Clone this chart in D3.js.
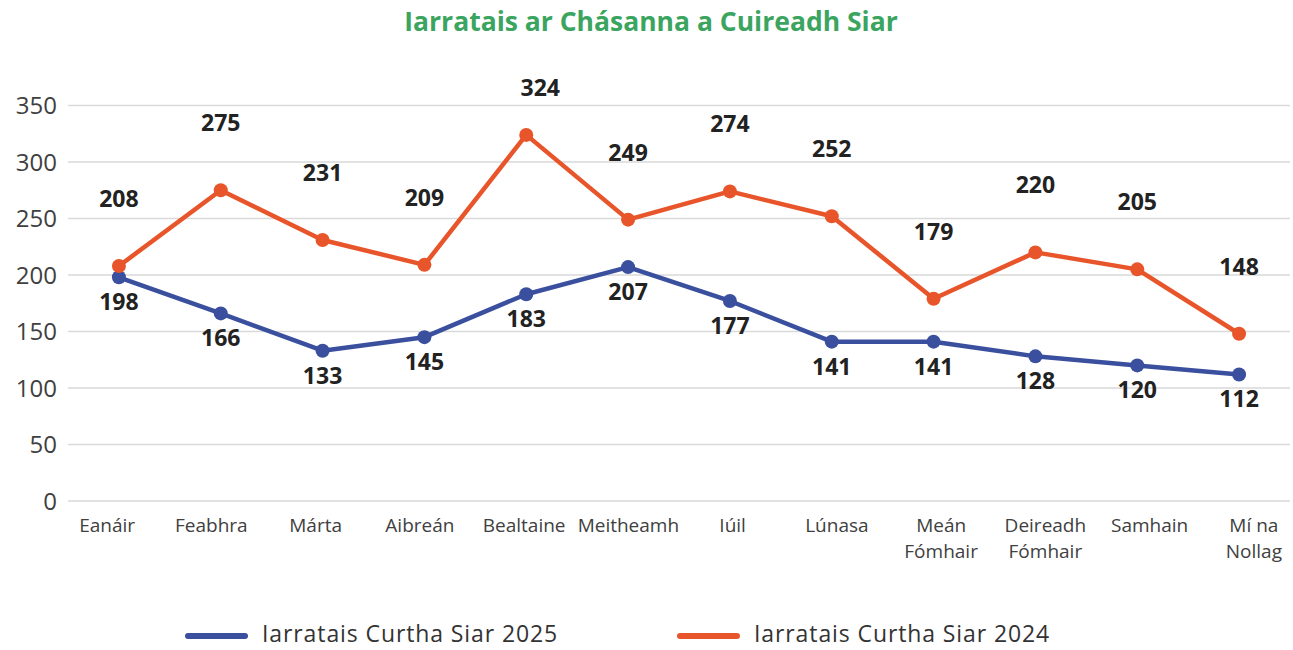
<!DOCTYPE html>
<html><head><meta charset="utf-8">
<script src="https://cdn.jsdelivr.net/npm/d3@7"></script>
<style>body{margin:0;background:#fff}svg{display:block;font-family:"Open Sans",sans-serif}</style>
</head><body><svg id="c" width="1293" height="650"></svg>
<script>
const months = ["Eanáir","Feabhra","Márta","Aibreán","Bealtaine","Meitheamh","Iúil","Lúnasa","Meán Fómhair","Deireadh Fómhair","Samhain","Mí na Nollag"];
const monthLines = [["Eanáir"],["Feabhra"],["Márta"],["Aibreán"],["Bealtaine"],["Meitheamh"],["Iúil"],["Lúnasa"],["Meán","Fómhair"],["Deireadh","Fómhair"],["Samhain"],["Mí na","Nollag"]];
const values2025 = [198,166,133,145,183,207,177,141,141,128,120,112];
const values2024 = [208,275,231,209,324,249,274,252,179,220,205,148];
const yTicks = [0,50,100,150,200,250,300,350];
const seriesNames = ["Iarratais Curtha Siar 2025","Iarratais Curtha Siar 2024"];
const colors = ["#3A4F9E","#E8552A"];
const title = "Iarratais ar Chásanna a Cuireadh Siar";

(function(){
const svg = d3.select("#c");
const pLeft = 68, pRight = 1290, pTop = 105.5, pBottom = 501;
const x = d3.scaleBand().domain(months).range([pLeft, pRight]);
const xl = d3.scaleBand().domain(months).range([55, 1306]);
const y = d3.scaleLinear().domain([0,350]).range([pBottom, pTop]);
const cx = m => x(m) + x.bandwidth()/2;

svg.append("text").attr("x", 651).attr("y", 31).attr("text-anchor","middle")
  .attr("font-size", 26.5).attr("font-weight", 700).attr("fill", "#3BA55F").text(title);

svg.append("g").selectAll("line").data(yTicks).join("line")
  .attr("x1", pLeft).attr("x2", pRight).attr("y1", d=>y(d)).attr("y2", d=>y(d))
  .attr("stroke", "#d9d9d9").attr("stroke-width", 1.5);
const yAxis = d3.axisLeft(y).tickValues(yTicks).tickSize(0).tickPadding(0);
const ya = svg.append("g").attr("transform", `translate(${pLeft-11},0)`).call(yAxis);
ya.select(".domain").remove();
ya.selectAll("text").attr("font-size", 24).attr("fill", "#404040").attr("font-family", "Open Sans").attr("dy", "0.35em");

const xg = svg.append("g");
months.forEach((m,i) => {
  const t = xg.append("text").attr("x", xl(m)+xl.bandwidth()/2).attr("y", 532)
    .attr("text-anchor","middle").attr("font-size", 19).attr("fill","#404040");
  monthLines[i].forEach((ln,j) => t.append("tspan").attr("x", xl(m)+xl.bandwidth()/2).attr("dy", j?26:0).text(ln));
});

const line = d3.line().x((d,i)=>cx(months[i])).y(d=>y(d));
[values2025, values2024].forEach((vals, s) => {
  svg.append("path").attr("d", line(vals)).attr("fill","none")
    .attr("stroke", colors[s]).attr("stroke-width", 4.5).attr("stroke-linejoin","round");
});
[values2025, values2024].forEach((vals, s) => {
  svg.append("g").selectAll("circle").data(vals).join("circle")
    .attr("cx", (d,i)=>cx(months[i])).attr("cy", d=>y(d)).attr("r", 7).attr("fill", colors[s]);
});
svg.append("g").selectAll("text").data(values2025).join("text")
  .attr("x", (d,i)=>cx(months[i])).attr("y", d=>y(d)+25).attr("dy","0.35em")
  .attr("text-anchor","middle").attr("font-size", 23).attr("font-weight",700).attr("fill","#222").text(d=>d);
svg.append("g").selectAll("text").data(values2024).join("text")
  .attr("x", (d,i)=>cx(months[i]) + (d===324?14:0)).attr("y", d=>Math.max(y(d)-67, 88)).attr("dy","0.35em")
  .attr("text-anchor","middle").attr("font-size", 23).attr("font-weight",700).attr("fill","#222").text(d=>d);

const legX = [188, 680];
seriesNames.forEach((n, s) => {
  svg.append("line").attr("x1", legX[s]).attr("x2", legX[s]+57).attr("y1", 636).attr("y2", 636)
    .attr("stroke", colors[s]).attr("stroke-width", 6).attr("stroke-linecap","round");
  svg.append("text").attr("x", legX[s]+74).attr("y", 634).attr("dy","0.35em")
    .attr("font-size", 23).attr("letter-spacing", 0.9).attr("fill","#333").text(n);
});
})();
</script></body></html>
